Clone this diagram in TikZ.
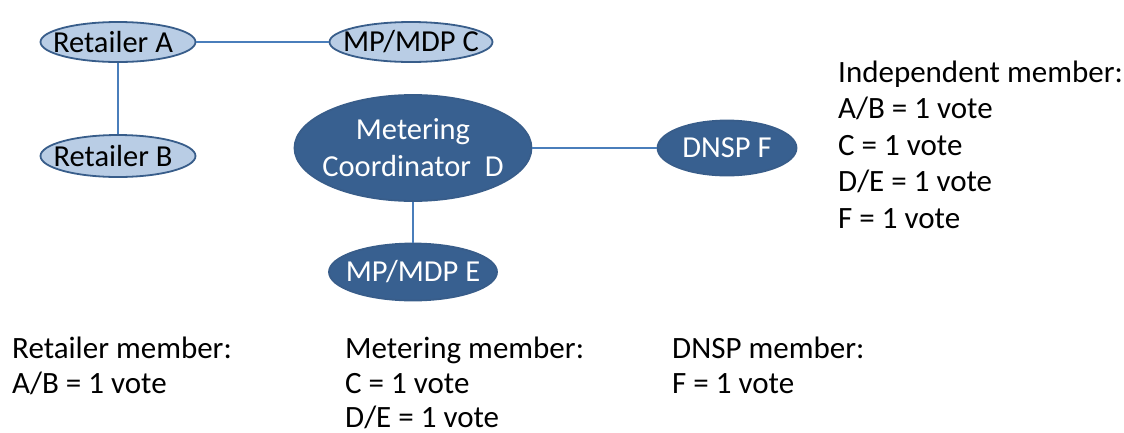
\documentclass[tikz,border=0pt]{standalone}
\usepackage{fontspec}
\setmainfont{Carlito}
\usetikzlibrary{shapes.geometric}
\definecolor{lightfill}{HTML}{B9CDE5}
\definecolor{darkfill}{HTML}{386090}
\definecolor{rim}{HTML}{385D8A}
\definecolor{wire}{HTML}{4A7EBB}
\tikzset{
  lightell/.style={ellipse, draw=rim, line width=1.8pt, fill=lightfill, inner sep=0pt},
  darkell/.style={ellipse, draw=rim, line width=1.8pt, fill=darkfill, inner sep=0pt},
  ltxt/.style={font=\fontsize{30.5}{37}\selectfont, text=black, align=center, inner sep=0pt},
  dtxt/.style={font=\fontsize{30.5}{37}\selectfont, text=white, align=center, inner sep=0pt},
  wireline/.style={draw=wire, line width=1.4pt},
  block/.style={font=\fontsize{31}{36.5}\selectfont, align=left, anchor=base west, inner sep=0pt},
  lowblock/.style={font=\fontsize{31}{34.5}\selectfont, align=left, anchor=base west, inner sep=0pt}
}
\begin{document}
\begin{tikzpicture}[x=1pt,y=-1pt]
\useasboundingbox (0,0) rectangle (1124,432);
\node[lightell, minimum width=155pt, minimum height=40pt, label={[ltxt,xshift=-5pt]center:Retailer A}] (A) at (118,42) {};
\node[lightell, minimum width=163pt, minimum height=40pt, label={[ltxt]center:MP/MDP C}] (C) at (411,42) {};
\node[lightell, minimum width=155pt, minimum height=42pt, label={[ltxt,xshift=-5pt]center:Retailer B}] (B) at (118,156) {};
\node[darkell, minimum width=237pt, minimum height=106pt, label={[dtxt]center:Metering\\Coordinator\ \ D}] (D) at (413,148) {};
\node[darkell, minimum width=139pt, minimum height=55pt, label={[dtxt]center:DNSP F}] (F) at (727,148) {};
\node[darkell, minimum width=168pt, minimum height=57pt, label={[dtxt]center:MP/MDP E}] (E) at (413,272) {};
\draw[wireline] (A) -- (C);
\draw[wireline] (A) -- (B);
\draw[wireline] (D) -- (F);
\draw[wireline] (D) -- (E);
\node[block] (ind) at (838,228) {Independent member:\\A/B = 1 vote\\C = 1 vote\\D/E = 1 vote\\F = 1 vote};
\node[lowblock] (ret) at (12,393) {Retailer member:\\A/B = 1 vote};
\node[lowblock] (met) at (345,427.5) {Metering member:\\C = 1 vote\\D/E = 1 vote};
\node[lowblock] (dnsp) at (672,393) {DNSP member:\\F = 1 vote};
\end{tikzpicture}
\end{document}
